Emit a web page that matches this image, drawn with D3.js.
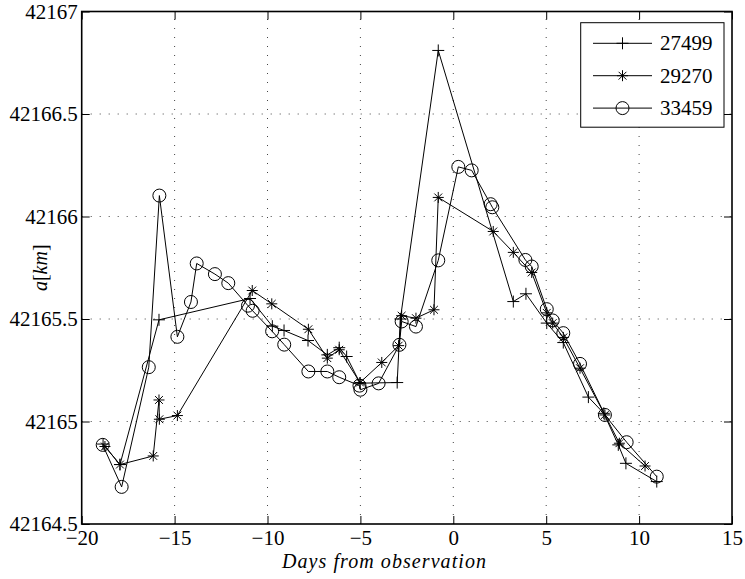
<!DOCTYPE html>
<html>
<head>
<meta charset="utf-8">
<script src="https://cdn.jsdelivr.net/npm/d3@7"></script>
<style>
  html, body { margin: 0; padding: 0; background: #fff; }
  svg { display: block; }
</style>
</head>
<body>
<svg id="chart" width="745" height="579"></svg>
<script>
// Semi-major axis estimates, per satellite, against days from observation
const days27499 = [-18.85, -17.94, -15.84, -10.94, -9.74, -9.11, -7.82, -6.78, -6.14, -5.74, -5.02, -3.02, -2.85, -0.81, 3.23, 3.91, 5.03, 5.92, 7.27, 8.10, 8.88, 9.29, 10.95];
const axis27499 = [42164.89, 42164.79, 42165.496, 42165.60, 42165.465, 42165.444, 42165.395, 42165.325, 42165.36, 42165.317, 42165.187, 42165.19, 42165.50, 42166.81, 42165.585, 42165.623, 42165.48, 42165.385, 42165.119, 42165.04, 42164.886, 42164.796, 42164.707];

const days29270 = [-18.75, -17.94, -16.15, -15.84, -15.82, -14.85, -10.82, -9.77, -7.80, -6.78, -6.14, -5.02, -3.85, -2.94, -2.78, -2.01, -1.04, -0.81, 2.15, 3.23, 4.22, 5.03, 5.35, 5.92, 6.82, 8.16, 8.94, 10.32];
const axis29270 = [42164.878, 42164.79, 42164.832, 42165.105, 42165.011, 42165.029, 42165.639, 42165.574, 42165.45, 42165.309, 42165.35, 42165.19, 42165.288, 42165.37, 42165.516, 42165.504, 42165.545, 42166.093, 42165.927, 42165.825, 42165.727, 42165.53, 42165.48, 42165.41, 42165.26, 42165.032, 42164.894, 42164.783];

const days33459 = [-18.87, -17.85, -16.39, -15.82, -14.85, -14.12, -13.81, -12.83, -12.11, -11.05, -10.80, -9.75, -9.10, -7.80, -6.78, -6.14, -5.05, -5.00, -4.02, -2.90, -2.78, -2.01, -0.81, 0.27, 0.99, 2.01, 2.10, 3.88, 4.22, 5.03, 5.35, 5.92, 6.82, 8.16, 9.33, 10.95];
const axis33459 = [42164.886, 42164.681, 42165.265, 42166.102, 42165.413, 42165.583, 42165.771, 42165.719, 42165.675, 42165.565, 42165.54, 42165.44, 42165.375, 42165.244, 42165.244, 42165.216, 42165.175, 42165.155, 42165.186, 42165.374, 42165.488, 42165.463, 42165.786, 42166.242, 42166.225, 42166.06, 42166.045, 42165.788, 42165.756, 42165.548, 42165.493, 42165.431, 42165.281, 42165.032, 42164.899, 42164.731];

const seriesNames = ["27499", "29270", "33459"];
const seriesMarkers = ["plus", "star", "circle"];

const xTicks = [-20, -15, -10, -5, 0, 5, 10, 15];
const yTicks = [42164.5, 42165, 42165.5, 42166, 42166.5, 42167];
const xLabel = "Days from observation";

const FONT = "'DejaVu Serif', 'Liberation Serif', 'Noto Serif', serif";
const FONT_NUM = "'Liberation Serif', 'DejaVu Serif', serif";

const svg = d3.select("#chart");
const pLeft = 81.7, pRight = 732, pTop = 11.5, pBottom = 524;

const x = d3.scaleLinear().domain([-20, 15]).range([pLeft, pRight]);
const y = d3.scaleLinear().domain([42164.5, 42167]).range([pBottom, pTop]);

// dotted grid
const grid = svg.append("g").attr("stroke", "#444").attr("stroke-width", 1)
  .attr("stroke-dasharray", "1,8");
grid.selectAll("line.vx").data(xTicks.slice(1, -1)).join("line")
  .attr("x1", d => x(d)).attr("x2", d => x(d))
  .attr("y1", pBottom).attr("y2", pTop);
grid.selectAll("line.hy").data(yTicks.slice(1, -1)).join("line")
  .attr("x1", pLeft).attr("x2", pRight)
  .attr("y1", d => y(d)).attr("y2", d => y(d));

// axes with inward ticks
const fmtX = d => (d < 0 ? "\u2212" + Math.abs(d) : String(d));
const axB = svg.append("g").attr("transform", `translate(0,${pBottom})`)
  .call(d3.axisBottom(x).tickValues(xTicks).tickFormat(fmtX).tickSizeInner(-8).tickSizeOuter(0).tickPadding(6));
const axT = svg.append("g").attr("transform", `translate(0,${pTop})`)
  .call(d3.axisTop(x).tickValues(xTicks).tickFormat("").tickSizeInner(-8).tickSizeOuter(0));
const axL = svg.append("g").attr("transform", `translate(${pLeft},0)`)
  .call(d3.axisLeft(y).tickValues(yTicks).tickFormat(d => String(d)).tickSizeInner(-8).tickSizeOuter(0).tickPadding(4));
const axR = svg.append("g").attr("transform", `translate(${pRight},0)`)
  .call(d3.axisRight(y).tickValues(yTicks).tickFormat("").tickSizeInner(-8).tickSizeOuter(0));

[axB, axT, axL, axR].forEach(g => {
  g.attr("font-family", null).attr("font-size", null);
  g.select(".domain").remove();
  g.selectAll(".tick line").attr("stroke", "#000").attr("stroke-width", 1);
  g.selectAll("text").style("font-family", FONT_NUM).style("font-size", "21px").attr("fill", "#000");
});
axB.selectAll("text").attr("dy", "0.71em");

// frame
svg.append("rect").attr("x", pLeft).attr("y", pTop)
  .attr("width", pRight - pLeft).attr("height", pBottom - pTop)
  .attr("fill", "none").attr("stroke", "#000").attr("stroke-width", 1.6);

// axis titles
svg.append("text").attr("x", 384).attr("y", 568)
  .attr("text-anchor", "middle").style("font-family", FONT_NUM).style("font-size", "20px")
  .style("font-style", "italic").attr("textLength", 204).attr("lengthAdjust", "spacing")
  .text(xLabel);
const yl = svg.append("text").attr("transform", `translate(47,${(pTop + pBottom) / 2}) rotate(-90)`)
  .attr("text-anchor", "middle").style("font-family", FONT_NUM).style("font-size", "20px");
yl.append("tspan").style("font-style", "italic").text("a");
yl.append("tspan").text("[");
yl.append("tspan").style("font-style", "italic").text("km");
yl.append("tspan").text("]");

// marker drawing
function marker(g, kind, cx, cy) {
  if (kind === "plus") {
    const s = 6;
    g.append("path").attr("d", `M${cx - s},${cy}H${cx + s}M${cx},${cy - s}V${cy + s}`)
      .attr("stroke", "#000").attr("stroke-width", 1).attr("fill", "none");
  } else if (kind === "star") {
    const s = 5.5, d = 3.9;
    g.append("path").attr("d",
      `M${cx - s},${cy}H${cx + s}M${cx},${cy - s}V${cy + s}` +
      `M${cx - d},${cy - d}L${cx + d},${cy + d}M${cx - d},${cy + d}L${cx + d},${cy - d}`)
      .attr("stroke", "#000").attr("stroke-width", 1).attr("fill", "none");
  } else {
    g.append("circle").attr("cx", cx).attr("cy", cy).attr("r", 6.5)
      .attr("stroke", "#000").attr("stroke-width", 1).attr("fill", "none");
  }
}

const allDays = [days27499, days29270, days33459];
const allAxis = [axis27499, axis29270, axis33459];
const line = d3.line().x(d => x(d[0])).y(d => y(d[1]));

allDays.forEach((ds, i) => {
  const pts = ds.map((d, j) => [d, allAxis[i][j]]);
  const g = svg.append("g");
  g.append("path").datum(pts).attr("d", line)
    .attr("fill", "none").attr("stroke", "#000").attr("stroke-width", 1);
  pts.forEach(p => marker(g, seriesMarkers[i], x(p[0]), y(p[1])));
});

// legend
const lg = svg.append("g");
lg.append("rect").attr("x", 580.7).attr("y", 22.7).attr("width", 143.3).attr("height", 104.5)
  .attr("fill", "#fff").attr("stroke", "#000").attr("stroke-width", 1);
seriesNames.forEach((name, i) => {
  const ly = 43.3 + i * 32.4;
  lg.append("line").attr("x1", 593).attr("x2", 652).attr("y1", ly).attr("y2", ly)
    .attr("stroke", "#000").attr("stroke-width", 1);
  marker(lg, seriesMarkers[i], 622.5, ly);
  lg.append("text").attr("x", 660).attr("y", ly + 7)
    .style("font-family", FONT_NUM).style("font-size", "21px").text(name);
});
</script>
</body>
</html>
